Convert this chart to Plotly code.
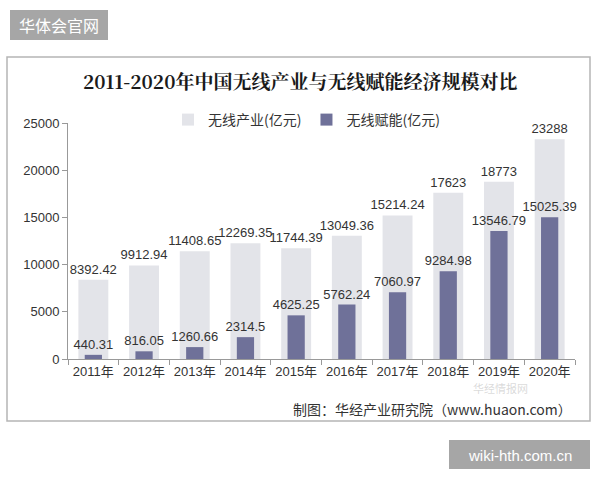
import plotly.graph_objects as go

years = ["2011年", "2012年", "2013年", "2014年", "2015年", "2016年", "2017年", "2018年", "2019年", "2020年"]
industry = [8392.42, 9912.94, 11408.65, 12269.35, 11744.39, 13049.36, 15214.24, 17623, 18773, 23288]
empower = [440.31, 816.05, 1260.66, 2314.5, 4625.25, 5762.24, 7060.97, 9284.98, 13546.79, 15025.39]
industry_labels = ["8392.42", "9912.94", "11408.65", "12269.35", "11744.39", "13049.36", "15214.24", "17623", "18773", "23288"]
empower_labels = ["440.31", "816.05", "1260.66", "2314.5", "4625.25", "5762.24", "7060.97", "9284.98", "13546.79", "15025.39"]
y_ticks = [0, 5000, 10000, 15000, 20000, 25000]

NUM_FONT = "Liberation Sans, Arial, sans-serif"
CJK_FONT = "Noto Sans CJK SC, sans-serif"

fig = go.Figure()
fig.add_trace(go.Bar(
    x=years, y=industry, name="无线产业(亿元)", width=0.59,
    marker=dict(color="#e3e4e9", line=dict(width=0)),
    text=industry_labels, textposition="outside", cliponaxis=False, constraintext="none",
    textfont=dict(family=NUM_FONT, size=13, color="#333333"),
))
fig.add_trace(go.Bar(
    x=years, y=empower, name="无线赋能(亿元)", width=0.34,
    marker=dict(color="#6f7199", line=dict(width=0)),
    text=empower_labels, textposition="outside", cliponaxis=False, constraintext="none",
    textfont=dict(family=NUM_FONT, size=13, color="#333333"),
))

W0, H0 = 507.0, 236.0
def px(x):
    return (x - 68) / W0
def py(y):
    return (359 - y) / H0

shapes = [
    dict(type="rect", xref="paper", yref="paper", x0=px(7), x1=px(590), y0=py(421), y1=py(57),
         line=dict(color="#b5b5b5", width=1.5), fillcolor="rgba(0,0,0,0)", layer="below"),
    dict(type="rect", xref="paper", yref="paper", x0=px(10), x1=px(108), y0=py(40), y1=py(10),
         line=dict(width=0), fillcolor="#a6a6a6"),
    dict(type="rect", xref="paper", yref="paper", x0=px(449), x1=px(590), y0=py(469), y1=py(440),
         line=dict(width=0), fillcolor="#a6a6a6"),
]

annotations = [
    dict(text="<b>2011-2020年中国无线产业与无线赋能经济规模对比</b>", xref="paper", yref="paper",
         x=px(300), y=py(80), xanchor="center", yanchor="middle", showarrow=False,
         font=dict(family="Noto Serif CJK SC, Noto Sans CJK SC, serif", size=19, color="#1a1a1a")),
    dict(text="华体会官网", xref="paper", yref="paper", x=px(59), y=py(25), xanchor="center",
         yanchor="middle", showarrow=False, font=dict(family=CJK_FONT, size=16, color="#ffffff")),
    dict(text="wiki-hth.com.cn", xref="paper", yref="paper", x=px(519.5), y=py(455), xanchor="center",
         yanchor="middle", showarrow=False, font=dict(family=NUM_FONT, size=15, color="#ffffff")),
    dict(text="制图：华经产业研究院（www.huaon.com）", xref="paper", yref="paper", x=px(574), y=py(409),
         xanchor="right", yanchor="middle", showarrow=False,
         font=dict(family=CJK_FONT, size=14, color="#333333")),
    dict(text="华经情报网", xref="paper", yref="paper", x=px(500), y=py(388), xanchor="center",
         yanchor="middle", showarrow=False,
         font=dict(family=CJK_FONT, size=11, color="rgba(160,160,160,0.4)")),
]

fig.update_layout(
    width=600, height=480,
    margin=dict(l=68, r=25, t=123, b=121),
    paper_bgcolor="white", plot_bgcolor="white",
    barmode="overlay",
    showlegend=True,
    legend=dict(orientation="h", x=px(168), y=py(120), xanchor="left", yanchor="middle",
                font=dict(family=CJK_FONT, size=14, color="#333333"),
                bgcolor="rgba(0,0,0,0)", itemwidth=30, tracegroupgap=0),
    shapes=shapes, annotations=annotations,
    xaxis=dict(type="category", showgrid=False, showline=True, linecolor="#999999", linewidth=1,
               ticks="outside", tickson="boundaries", ticklen=5, tickcolor="#999999", tickangle=0,
               tickfont=dict(family=NUM_FONT + ", " + CJK_FONT, size=13, color="#333333")),
    yaxis=dict(range=[0, 25000], tickvals=y_ticks, ticktext=[str(v) for v in y_ticks],
               showgrid=False, showline=True,
               linecolor="#999999", linewidth=1, ticks="outside", ticklen=5, tickcolor="#999999",
               zeroline=False, tickfont=dict(family=NUM_FONT, size=13, color="#333333")),
    bargap=0.4,
)

fig.write_html("out.html")
